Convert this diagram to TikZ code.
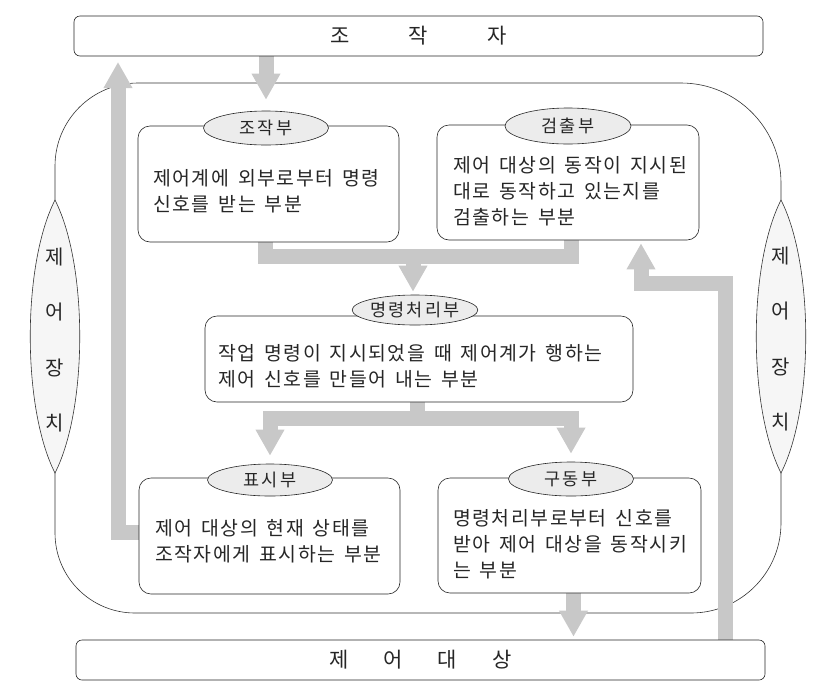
\documentclass[tikz,border=0pt]{standalone}
\usepackage{fontspec}
\setmainfont{Noto Sans CJK KR}
\newfontfamily\kr[LetterSpace=8,WordSpace=1.5]{Noto Sans CJK KR}
\newfontfamily\krl[LetterSpace=12]{Noto Sans CJK KR}
\usetikzlibrary{arrows.meta,shapes.geometric}
\pgfdeclarelayer{bottomlayer}
\pgfdeclarelayer{arrowlayer}
\pgfsetlayers{bottomlayer,arrowlayer,main}
\definecolor{arrgray}{RGB}{200,200,200}
\definecolor{labfill}{RGB}{236,236,236}
\definecolor{lensfill}{RGB}{246,246,246}
\newcommand\fTxt{\kr\fontsize{19.4}{26}\selectfont}
\newcommand\fLab{\krl\fontsize{17.5}{19}\selectfont}
\newcommand\fBar{\kr\fontsize{21}{24}\selectfont}
\newcommand\fSide{\kr\fontsize{20}{55.5}\selectfont}
\begin{document}
\begin{tikzpicture}[x=1pt,y=-1pt,
  bar/.style={draw=black!85, line width=0.6pt, rounded corners=6pt, minimum width=689pt, minimum height=40pt, inner sep=0pt, font=\fBar, text=black!85},
  box/.style={draw=black!85, line width=0.6pt, rounded corners=12pt, fill=white, inner sep=0pt},
  lab/.style={ellipse, draw=black!85, line width=0.6pt, fill=labfill, inner sep=0pt, minimum width=125pt, minimum height=33pt, font=\fLab, text=black!85},
  txt/.style={anchor=north west, inner sep=0pt, align=left, font=\fTxt, text=black!85},
  garrow/.style={draw=arrgray, line width=15pt, -{Triangle[width=27pt,length=26pt]}},
  gline/.style={draw=arrgray, line width=15pt},
  loopline/.style={draw=black!80, line width=0.6pt},
  lens/.style={draw=black!80, line width=0.6pt, fill=lensfill},
  side/.style={align=center, inner sep=0pt, font=\fSide, text=black!85}
]
\useasboundingbox (0,0) rectangle (821,694);

% bars
\node[bar] (op) at (418.5,36) {조\hspace{59pt}작\hspace{59pt}자};
\node[bar] (tgt) at (420.5,660) {제\hspace{35pt}어\hspace{35pt}대\hspace{35pt}상};

% boxes
\node[box, minimum width=261pt, minimum height=116pt] (b1) at (268.5,184) {};
\node[box, minimum width=262pt, minimum height=115pt] (b2) at (568,182.5) {};
\node[box, minimum width=428pt, minimum height=86pt] (b3) at (419,359) {};
\node[box, minimum width=261pt, minimum height=116pt] (b4) at (269.5,536) {};
\node[box, minimum width=263pt, minimum height=115pt] (b5) at (569.5,535.5) {};

% labels
\node[lab, minimum height=34pt] (l1) at (266,128) {조작부};
\node[lab, minimum width=126pt, minimum height=36pt] (l2) at (568,126) {검출부};
\node[lab, minimum width=124pt, minimum height=30pt] (l3) at (415,310) {명령처리부};
\node[lab, minimum height=32pt] (l4) at (270,480) {표시부};
\node[lab, minimum height=34pt] (l5) at (571,479) {구동부};

% texts
\node[txt] (t1) at (153,169) {\rule{0pt}{16pt}제어계에 외부로부터 명령\\신호를 받는 부분};
\node[txt] (t2) at (453,156) {\rule{0pt}{16pt}제어 대상의 동작이 지시된\\대로 동작하고 있는지를\\검출하는 부분};
\node[txt] (t3) at (218,344) {\rule{0pt}{16pt}작업 명령이 지시되었을 때 제어계가 행하는\\제어 신호를 만들어 내는 부분};
\node[txt] (t4) at (155,519) {\rule{0pt}{16pt}제어 대상의 현재 상태를\\조작자에게 표시하는 부분};
\node[txt] (t5) at (453,509) {\rule{0pt}{16pt}명령처리부로부터 신호를\\받아 제어 대상을 동작시키\\는 부분};

% side texts
\node[side] (sl) at (55,340) {제\\어\\장\\치};
\node[side] (sr) at (781,339) {제\\어\\장\\치};

% helper coordinates
\coordinate (c2) at (118,62);
\coordinate (h3) at (0,256);
\coordinate (h4) at (0,418);
\coordinate (v6) at (725,0);
\coordinate (h6) at (0,283);
\coordinate (v6b) at (641,0);

\begin{pgfonlayer}{bottomlayer}
\fill[white] (0,0) rectangle (821,694);
% outer loop
\draw[loopline] (138,83) -- (681,83) arc[start angle=270, end angle=360, radius=100]
  -- (781,523) arc[start angle=0, end angle=90, radius=90]
  -- (135,613) arc[start angle=90, end angle=180, radius=80]
  -- (55,166) arc[start angle=180, end angle=270, radius=83] -- cycle;
% side lenses
\draw[lens] (55,200) .. controls (22,265) and (22,408) .. (55,473) .. controls (88,408) and (88,265) .. (55,200);
\draw[lens] (781,200) .. controls (748,265) and (748,408) .. (781,473) .. controls (814,408) and (814,265) .. (781,200);
\end{pgfonlayer}

\begin{pgfonlayer}{arrowlayer}
\draw[garrow] (op.south -| l1.north) -- ([yshift=11pt]l1.north);
\draw[garrow] ([yshift=4pt]b4.west) -| (c2);
\draw[gline] ([xshift=-3pt]b1.south) -- ([xshift=-3pt]b1.south |- h3) -- ([xshift=3pt]b2.south |- h3) -- ([xshift=3pt]b2.south);
\draw[garrow] ([xshift=-2pt]l3.north |- h3) -- ([xshift=-2pt,yshift=3pt]l3.north);
\draw[gline] ([xshift=-2pt]b3.south) -- ([xshift=-2pt]b3.south |- h4);
\draw[garrow] ([xshift=-2pt]b3.south |- h4) -| ([yshift=8pt]l4.north);
\draw[garrow] ([xshift=-2pt]b3.south |- h4) -| ([yshift=8pt]l5.north);
\draw[garrow] ([xshift=4pt]b5.south) -- ([xshift=4pt,yshift=3pt]b5.south |- tgt.north);
\draw[garrow] (tgt.north -| v6) -- (v6 |- h6) -- (v6b |- h6) -- ([yshift=-3pt]b2.south -| v6b);
\end{pgfonlayer}
\end{tikzpicture}
\end{document}
